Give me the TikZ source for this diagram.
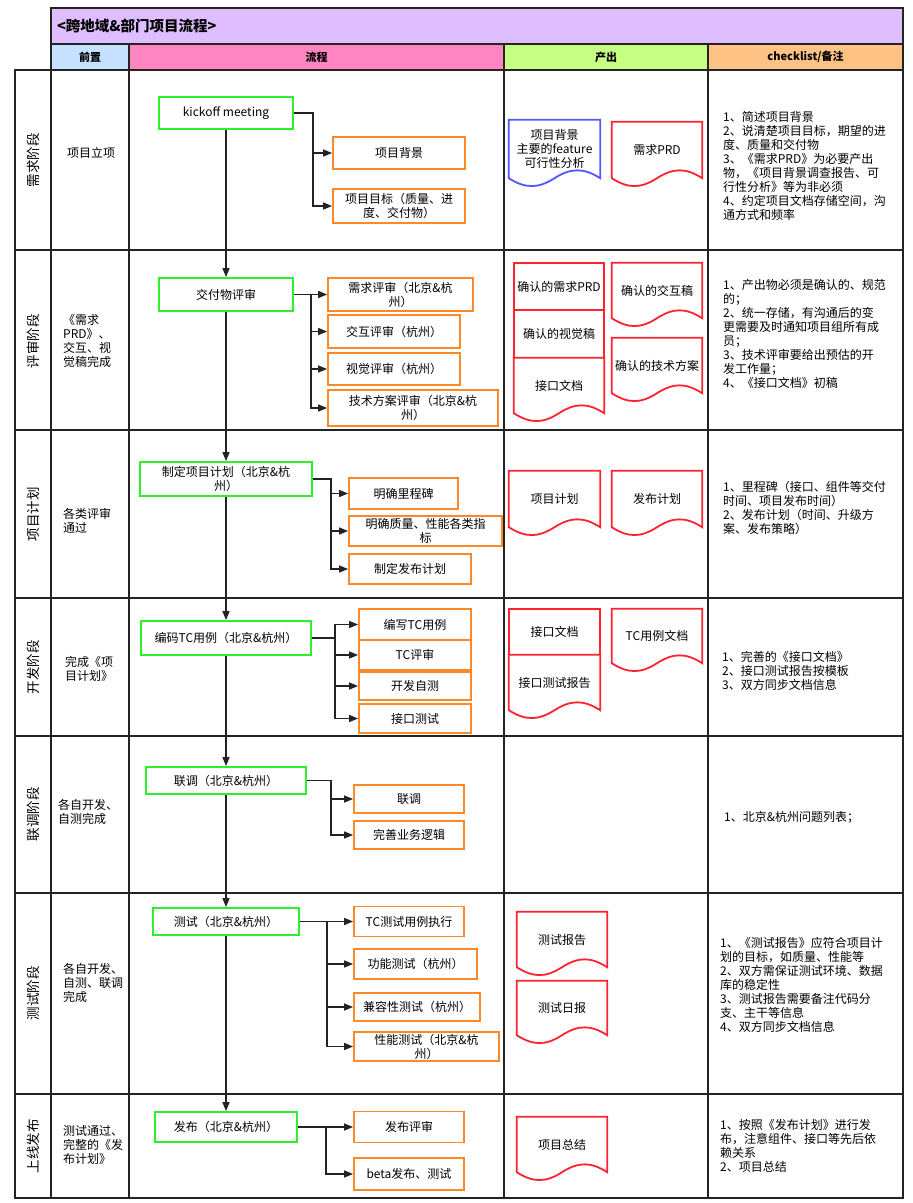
\documentclass[tikz,border=0pt]{standalone}
\usepackage{fontspec}
\setmainfont{Noto Sans CJK SC}
\usetikzlibrary{arrows.meta,calc,positioning}

\definecolor{cTitle}{RGB}{223,190,255}
\definecolor{cPre}{RGB}{198,225,255}
\definecolor{cFlow}{RGB}{255,133,192}
\definecolor{cOut}{RGB}{199,255,133}
\definecolor{cNote}{RGB}{255,194,133}
\definecolor{cGreen}{RGB}{45,240,45}
\definecolor{cOrange}{RGB}{250,138,40}
\definecolor{cRed}{RGB}{255,35,50}
\definecolor{cBlue}{RGB}{85,85,255}
\definecolor{cLine}{RGB}{35,35,35}

% document outline with a wavy bottom, drawn round a named node
\newcommand{\docshape}[2]{%
  \draw[#2] (#1.south west) -- (#1.north west) -- (#1.north east) -- (#1.south east)
    .. controls ($(#1.south west)!0.82!(#1.south east)+(0,-10.5)$) and ($(#1.south west)!0.68!(#1.south east)+(0,-10.5)$) .. ($(#1.south west)!0.5!(#1.south east)$)
    .. controls ($(#1.south west)!0.32!(#1.south east)+(0,10.5)$) and ($(#1.south west)!0.18!(#1.south east)+(0,10.5)$) .. (#1.south west) -- cycle;}

\begin{document}
\begin{tikzpicture}[
    x=1pt, y=-1pt,
    every node/.style={font=\fontsize{12}{14}\selectfont, align=center, inner sep=0pt},
    cell/.style 2 args={minimum width=#1, minimum height=#2},
    grid/.style={draw=cLine, line width=2pt},
    headcell/.style={draw=cLine, line width=2pt, font=\bfseries\fontsize{11}{13}\selectfont},
    stagelabel/.style={rotate=90, font=\fontsize{13.5}{16}\selectfont},
    pretext/.style={anchor=west, align=left},
    notetext/.style={anchor=west, align=left},
    greenbox/.style={draw=cGreen, line width=1.8pt, fill=white},
    orangebox/.style={draw=cOrange, line width=1.8pt, fill=white},
    docbox/.style={fill=white},
    docred/.style={draw=cRed, line width=1.8pt},
    docblue/.style={draw=cBlue, line width=1.8pt},
    flow/.style={-{Triangle[length=9pt,width=7pt]}, line width=1.4pt, draw=cLine}
  ]
    \useasboundingbox (0,0) rectangle (913,1203);
    \fill[white] (0,0) rectangle (913,1203);

    % title and header
    \node[draw=cLine, line width=2pt, fill=cTitle, cell={852}{36}, text width=840pt, align=left,
      font=\bfseries\fontsize{14.5}{17}\selectfont] (title) at (477,26) {<跨地域\&部门项目流程>};
    \node[headcell, fill=cPre, cell={78}{26}] (hpre) at (90,57) {前置};
    \node[headcell, fill=cFlow, cell={375}{26}] (hflow) at (316.5,57) {流程};
    \node[headcell, fill=cOut, cell={204}{26}] (hout) at (606,57) {产出};
    \node[headcell, fill=cNote, cell={195}{26}] (hnote) at (805.5,57) {checklist/备注};

    % table body
    \draw[grid] (15,70) rectangle (903,1198);
    \draw[grid] (51,70) -- (51,1198) (129,70) -- (129,1198) (504,70) -- (504,1198) (708,70) -- (708,1198);
    \draw[grid] (15,250) -- (903,250) (15,430) -- (903,430) (15,598) -- (903,598)
      (15,736) -- (903,736) (15,893) -- (903,893) (15,1094) -- (903,1094);

    % stages
    \node[stagelabel] (st1) at (33,160) {需求阶段};
    \node[stagelabel] (st2) at (33,341) {评审阶段};
    \node[stagelabel] (st3) at (33,514) {项目计划};
    \node[stagelabel] (st4) at (33,667) {开发阶段};
    \node[stagelabel] (st5) at (33,814) {联调阶段};
    \node[stagelabel] (st6) at (33,993) {测试阶段};
    \node[stagelabel] (st7) at (33,1146) {上线发布};

    % preconditions
    \node[pretext] (pre1) at (67,153) {项目立项};
    \node[pretext] (pre2) at (63,341) {《需求\\PRD》、\\交互、视\\觉稿完成};
    \node[pretext] (pre3) at (63,520.5) {各类评审\\通过};
    \node[pretext] (pre4) at (65,668.5) {完成《项\\目计划》};
    \node[pretext] (pre5) at (58,812) {各自开发、\\自测完成};
    \node[pretext] (pre6) at (63,983) {各自开发、\\自测、联调\\完成};
    \node[pretext] (pre7) at (63,1145) {测试通过、\\完整的《发\\布计划》};

    % main flow
    \node[greenbox, cell={134}{32}] (kick) at (226,113) {kickoff meeting};
    \node[greenbox, cell={134}{33}] (review) at (226,294.5) {交付物评审};
    \node[greenbox, cell={172}{34}] (plan) at (226,479) {制定项目计划（北京\&杭\\州）};
    \node[greenbox, cell={170}{34}] (code) at (226,638) {编码TC用例（北京\&杭州）};
    \node[greenbox, cell={160}{27}] (joint) at (226,780.5) {联调（北京\&杭州）};
    \node[greenbox, cell={146}{27}] (test) at (226,921.5) {测试（北京\&杭州）};
    \node[greenbox, cell={142}{30}] (rel) at (226,1127) {发布（北京\&杭州）};

    % sub steps
    \node[orangebox, cell={132}{32}] (bg) at (399,153) {项目背景};
    \node[orangebox, cell={132}{34}] (goal) at (399,206) {项目目标（质量、进\\度、交付物）};
    \node[orangebox, cell={145}{33}] (r1) at (400.5,294.5) {需求评审（北京\&杭\\州）};
    \node[orangebox, cell={132}{33}] (r2) at (394,331.5) {交互评审（杭州）};
    \node[orangebox, cell={132}{32}] (r3) at (394,369) {视觉评审（杭州）};
    \node[orangebox, cell={170}{36}] (r4) at (413,408) {技术方案评审（北京\&杭\\州）};
    \node[orangebox, cell={109}{31}] (p1) at (403.5,493.5) {明确里程碑};
    \node[orangebox, cell={153}{30}] (p2) at (425.5,531) {明确质量、性能各类指\\标};
    \node[orangebox, cell={122}{30}] (p3) at (410,569) {制定发布计划};
    \node[orangebox, cell={112}{31}] (d1) at (415,624.5) {编写TC用例};
    \node[orangebox, cell={112}{30}] (d2) at (415,655) {TC评审};
    \node[orangebox, cell={112}{28}] (d3) at (415,686) {开发自测};
    \node[orangebox, cell={112}{29}] (d4) at (415,718.5) {接口测试};
    \node[orangebox, cell={110}{28}] (j1) at (409,799) {联调};
    \node[orangebox, cell={110}{28}] (j2) at (409,835) {完善业务逻辑};
    \node[orangebox, cell={110}{30}] (t1) at (409,921.5) {TC测试用例执行};
    \node[orangebox, cell={123}{30}] (t2) at (415.5,964) {功能测试（杭州）};
    \node[orangebox, cell={126}{28}] (t3) at (417,1007) {兼容性测试（杭州）};
    \node[orangebox, cell={145}{29}] (t4) at (426.5,1046.5) {性能测试（北京\&杭\\州）};
    \node[orangebox, cell={110}{31}] (f1) at (409,1127) {发布评审};
    \node[orangebox, cell={110}{32}] (f2) at (409,1174) {beta发布、测试};

    \draw[flow] (kick) -- (review);
    \draw[flow] (review) -- (plan);
    \draw[flow] (plan) -- (code);
    \draw[flow] (code) -- (joint);
    \draw[flow] (joint) -- (test);
    \draw[flow] (test) -- (rel);

    \draw[flow] (kick.east) -- ++(19,0) |- (bg.west);
    \draw[flow] (kick.east) -- ++(19,0) |- (goal.west);
    \draw[flow] (review.east) -- ++(17,0) |- (r1.west);
    \draw[flow] (review.east) -- ++(17,0) |- (r2.west);
    \draw[flow] (review.east) -- ++(17,0) |- (r3.west);
    \draw[flow] (review.east) -- ++(17,0) |- (r4.west);
    \draw[flow] (plan.east) -- ++(18,0) |- (p1.west);
    \draw[flow] (plan.east) -- ++(18,0) |- (p2.west);
    \draw[flow] (plan.east) -- ++(18,0) |- (p3.west);
    \draw[flow] (code.east) -- ++(23,0) |- (d1.west);
    \draw[flow] (code.east) -- ++(23,0) |- (d2.west);
    \draw[flow] (code.east) -- ++(23,0) |- (d3.west);
    \draw[flow] (code.east) -- ++(23,0) |- (d4.west);
    \draw[flow] (joint.east) -- ++(24,0) |- (j1.west);
    \draw[flow] (joint.east) -- ++(24,0) |- (j2.west);
    \draw[flow] (test.east) -- ++(27,0) |- (t1.west);
    \draw[flow] (test.east) -- ++(27,0) |- (t2.west);
    \draw[flow] (test.east) -- ++(27,0) |- (t3.west);
    \draw[flow] (test.east) -- ++(27,0) |- (t4.west);
    \draw[flow] (rel.east) -- ++(28,0) |- (f1.west);
    \draw[flow] (rel.east) -- ++(28,0) |- (f2.west);

    % outputs
    \node[docbox, cell={91}{58}] (o1a) at (554.5,149) {项目背景\\主要的feature\\可行性分析};
    \node[docbox, cell={90}{56}] (o1b) at (657,150) {需求PRD};
    \docshape{o1a}{docblue}
    \docshape{o1b}{docred}

    \node[docbox, docred, draw, cell={90}{47}] (o2a) at (559,286.5) {确认的需求PRD};
    \node[docbox, docred, draw, cell={90}{48}] (o2b) at (559,334) {确认的视觉稿};
    \node[docbox, cell={90}{55}] (o2c) at (559,385.5) {接口文档};
    \node[docbox, cell={90}{55}] (o2d) at (657,290.5) {确认的交互稿};
    \node[docbox, cell={90}{55}] (o2e) at (657,365.5) {确认的技术方案};
    \docshape{o2c}{docred}
    \docshape{o2d}{docred}
    \docshape{o2e}{docred}

    \node[docbox, cell={91}{56}] (o3a) at (554.5,499) {项目计划};
    \node[docbox, cell={90}{56}] (o3b) at (657,499) {发布计划};
    \docshape{o3a}{docred}
    \docshape{o3b}{docred}

    \node[docbox, docred, draw, cell={91}{46}] (o4a) at (554.5,632) {接口文档};
    \node[docbox, cell={91}{55}] (o4b) at (554.5,682.5) {接口测试报告};
    \node[docbox, cell={90}{54}] (o4c) at (657,636) {TC用例文档};
    \docshape{o4b}{docred}
    \docshape{o4c}{docred}

    \node[docbox, cell={90}{55}] (o6a) at (562,939.5) {测试报告};
    \node[docbox, cell={90}{54}] (o6b) at (562,1008) {测试日报};
    \docshape{o6a}{docred}
    \docshape{o6b}{docred}

    \node[docbox, cell={90}{55}] (o7a) at (562,1144.5) {项目总结};
    \docshape{o7a}{docred}

    % checklist
    \node[notetext] (n1) at (723,166) {1、简述项目背景\\2、说清楚项目目标，期望的进\\度、质量和交付物\\3、《需求PRD》为必要产出\\物，《项目背景调查报告、可\\行性分析》等为非必须\\4、约定项目文档存储空间，沟\\通方式和频率};
    \node[notetext] (n2) at (723,334) {1、产出物必须是确认的、规范\\的；\\2、统一存储，有沟通后的变\\更需要及时通知项目组所有成\\员；\\3、技术评审要给出预估的开\\发工作量；\\4、《接口文档》初稿};
    \node[notetext] (n3) at (723,508) {1、里程碑（接口、组件等交付\\时间、项目发布时间）\\2、发布计划（时间、升级方\\案、发布策略）};
    \node[notetext] (n4) at (722,670.5) {1、完善的《接口文档》\\2、接口测试报告按模板\\3、双方同步文档信息};
    \node[notetext] (n5) at (724,817) {1、北京\&杭州问题列表；};
    \node[notetext] (n6) at (720,985) {1、《测试报告》应符合项目计\\划的目标，如质量、性能等\\2、双方需保证测试环境、数据\\库的稳定性\\3、测试报告需要备注代码分\\支、主干等信息\\4、双方同步文档信息};
    \node[notetext] (n7) at (720,1146) {1、按照《发布计划》进行发\\布，注意组件、接口等先后依\\赖关系\\2、项目总结};
\end{tikzpicture}
\end{document}
